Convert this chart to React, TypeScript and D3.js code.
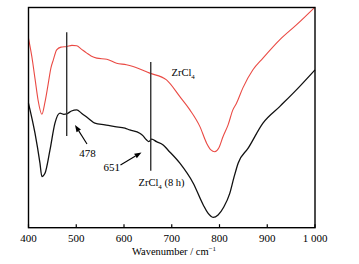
import React from "react";
import * as d3 from "d3";

const W = 359;
const H = 264;

const redWavenumber = [400, 407, 414, 420, 428, 434.5, 441, 447, 452, 459, 468, 480, 491, 501, 510, 522, 531, 543, 564, 584.5, 605, 619, 654, 689, 717, 738, 759, 773, 782, 790, 798.5, 807.5, 818, 828, 835.6, 849, 870, 891, 926, 961, 1000];
const redValue = [86, 77.7, 67.1, 58, 51.5, 57, 65, 72.6, 76.2, 80.8, 82, 82.3, 82.8, 82.6, 81.2, 79.3, 78, 77, 76.5, 74.7, 74, 73.2, 70.2, 67.1, 59.5, 53.5, 45.9, 38.4, 35.3, 34.5, 36.2, 41.4, 46.7, 53.5, 56.5, 63.5, 71.7, 77, 85.3, 92.1, 100.2];

const blackWavenumber = [400, 413.6, 424, 428, 434.5, 445, 455.4, 466, 474, 480, 490, 501, 511, 525, 539, 560, 581, 602, 612, 633, 640, 647, 652, 658, 668, 682, 692, 717, 745, 766, 775.5, 786.6, 797, 809, 821.5, 830, 839, 860, 891, 926, 961, 1000];
const blackValue = [56.5, 42.9, 29.3, 23.2, 24.7, 35.3, 47.5, 52, 51.5, 51.7, 53, 53.5, 52, 49.7, 47.5, 46.7, 45.9, 45.2, 44.4, 42.9, 41.7, 39.9, 39.1, 40.2, 39.1, 37.6, 35.3, 29.3, 20.2, 10.3, 6.7, 4.7, 5.8, 9.4, 15.6, 22.6, 29.3, 36.1, 47.5, 55, 62.6, 71.7];

const xTicks = [400, 500, 600, 700, 800, 900, 1000];
const xTickLabels = ["400", "500", "600", "700", "800", "900", "1 000"];

// vertical marker lines: [wavenumber, top value, bottom value]
const markerLines = [
  [480, 88.8, 41.7],
  [656, 75.2, 25.9],
];

const FONT = "'Liberation Serif', 'Times New Roman', serif";

export default function App() {
  const left = 28.5, right = 315, top = 7.5, bottom = 227.7;
  const x = d3.scaleLinear().domain([400, 1000]).range([left, right]);
  const y = d3.scaleLinear().domain([0, 100]).range([bottom, top]);

  const line = d3
    .line<[number, number]>()
    .x((d) => x(d[0]))
    .y((d) => y(d[1]))
    .curve(d3.curveMonotoneX);

  const redPts: [number, number][] = redWavenumber.map((w, i) => [w, redValue[i]]);
  const blackPts: [number, number][] = blackWavenumber.map((w, i) => [w, blackValue[i]]);

  const arrow = (x1: number, y1: number, x2: number, y2: number) => {
    const ang = Math.atan2(y2 - y1, x2 - x1);
    const L = 7, Wd = 2.6;
    const bx = x2 - L * Math.cos(ang), by = y2 - L * Math.sin(ang);
    const px = -Math.sin(ang) * Wd, py = Math.cos(ang) * Wd;
    return (
      <g>
        <line x1={x1} y1={y1} x2={bx} y2={by} stroke="#000" strokeWidth={1.1} />
        <polygon points={`${x2},${y2} ${bx + px},${by + py} ${bx - px},${by - py}`} fill="#000" />
      </g>
    );
  };

  return (
    <div style={{ position: "absolute", left: 0, top: 0 }}>
      <svg width={W} height={H} style={{ display: "block", background: "#fff" }}>
        <path d={line(redPts) || ""} fill="none" stroke="#ea4a44" strokeWidth={1.1} />
        <path d={line(blackPts) || ""} fill="none" stroke="#111" strokeWidth={1.3} />
        {markerLines.map((m, i) => (
          <line key={i} x1={x(m[0])} x2={x(m[0])} y1={y(m[1])} y2={y(m[2])} stroke="#333" strokeWidth={1.4} />
        ))}
        {arrow(87, 144, 75, 125)}
        {arrow(120.5, 165, 141.5, 152.5)}
        <rect x={left} y={top} width={right - left} height={bottom - top} fill="none" stroke="#000" strokeWidth={1.4} />
        {xTicks.map((t, i) => (
          <g key={t}>
            <line x1={x(t)} x2={x(t)} y1={bottom} y2={bottom - 3.5} stroke="#000" strokeWidth={1.2} />
            <text x={x(t)} y={241.5} textAnchor="middle" fontFamily={FONT} fontSize={11} fill="#000">
              {xTickLabels[i]}
            </text>
          </g>
        ))}
        <text x={174} y={255} textAnchor="middle" fontFamily={FONT} fontSize={10.5} fill="#000">
          Wavenumber / cm<tspan dy={-4} fontSize={7}>−1</tspan>
        </text>
        <text x={87.5} y={157} textAnchor="middle" fontFamily={FONT} fontSize={11} fill="#000">478</text>
        <text x={120} y={171} textAnchor="end" fontFamily={FONT} fontSize={11} fill="#000">651</text>
        <text x={138.5} y={186} fontFamily={FONT} fontSize={10.5} fill="#000">
          ZrCl<tspan dy={2.5} fontSize={7}>4</tspan><tspan dy={-2.5}> (8 h)</tspan>
        </text>
        <text x={171.5} y={76} fontFamily={FONT} fontSize={10.5} fill="#000">
          ZrCl<tspan dy={2.5} fontSize={7}>4</tspan>
        </text>
      </svg>
    </div>
  );
}
